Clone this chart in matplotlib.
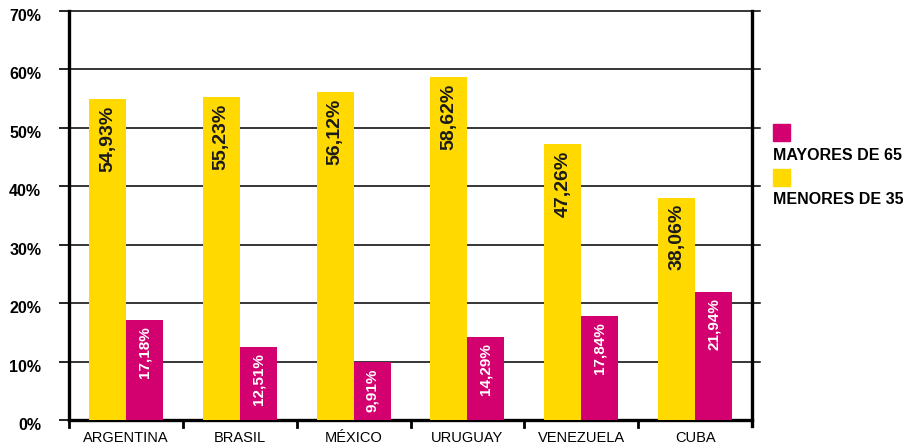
import matplotlib
matplotlib.use("Agg")
import matplotlib.pyplot as plt
import matplotlib.transforms as mtransforms
import numpy as np

paises = ["ARGENTINA", "BRASIL", "MÉXICO", "URUGUAY", "VENEZUELA", "CUBA"]
menores_35 = [54.93, 55.23, 56.12, 58.62, 47.26, 38.06]
mayores_65 = [17.18, 12.51, 9.91, 14.29, 17.84, 21.94]
yticks = [0, 10, 20, 30, 40, 50, 60, 70]

amarillo = "#FFD900"
magenta = "#D3006F"

plt.rcParams["font.family"] = ["Liberation Sans", "DejaVu Sans"]

fig = plt.figure(figsize=(9.04, 4.46), dpi=100)
ax = fig.add_axes([69 / 904, 1 - 420 / 446, (752 - 69) / 904, (420 - 11) / 446])

x = np.arange(len(paises))
w = 0.325
ax.bar(x - w / 2, menores_35, w, color=amarillo, zorder=3)
ax.bar(x + w / 2, mayores_65, w, color=magenta, zorder=3)

fmt = lambda v: ("%.2f%%" % v).replace(".", ",")
for xi, v in zip(x, menores_35):
    ax.text(xi - w / 2, v - 1.1, fmt(v), rotation=90, ha="center", va="top",
            fontsize=14, fontweight="bold", color="#1a1a1a", zorder=4)
for xi, v in zip(x, mayores_65):
    ax.text(xi + w / 2, v - 1.1, fmt(v), rotation=90, ha="center", va="top",
            fontsize=11, fontweight="bold", color="white", zorder=4)

ax.set_xlim(-0.5, len(paises) - 0.5)
ax.set_ylim(0, 70)
ax.set_yticks(yticks)
ax.set_yticklabels(["%d%%" % t for t in yticks], fontsize=11.5, fontweight="bold")
ax.set_xticks(x)
ax.set_xticklabels(paises, fontsize=10.5)
ax.tick_params(axis="x", length=0, pad=8)
ax.tick_params(axis="y", length=7, width=1.2, pad=13)

# y labels sit a little below their gridlines
shift = mtransforms.ScaledTranslation(0, -4 / 100, fig.dpi_scale_trans)
for lab in ax.get_yticklabels():
    lab.set_transform(lab.get_transform() + shift)

# boundary ticks on the x axis
for b in np.arange(-0.5, len(paises) - 0.5, 1.0):
    ax.plot([b, b], [0, -1.2], color="black", lw=2, clip_on=False, zorder=5)

# gridlines run a bit past the right spine
for t in yticks[1:]:
    ax.plot([0, 1.011], [t, t], color="black", lw=1.1,
            transform=ax.get_yaxis_transform(), clip_on=False, zorder=1)

for s in ["left", "bottom", "right"]:
    ax.spines[s].set_linewidth(2.4)
ax.spines["top"].set_visible(False)
ax.spines["right"].set_bounds(-1, 70)

# legend
fig.patches.append(plt.Rectangle((773 / 904, 1 - 141 / 446), 17 / 904, 17 / 446,
                                 transform=fig.transFigure, color=magenta))
fig.text(773 / 904, 1 - 155 / 446, "MAYORES DE 65", fontsize=11.5,
         fontweight="bold", va="center")
fig.patches.append(plt.Rectangle((773 / 904, 1 - 186 / 446), 17 / 904, 17 / 446,
                                 transform=fig.transFigure, color=amarillo))
fig.text(773 / 904, 1 - 200 / 446, "MENORES DE 35", fontsize=11.5,
         fontweight="bold", va="center")

fig.savefig("out.png", dpi=100)
